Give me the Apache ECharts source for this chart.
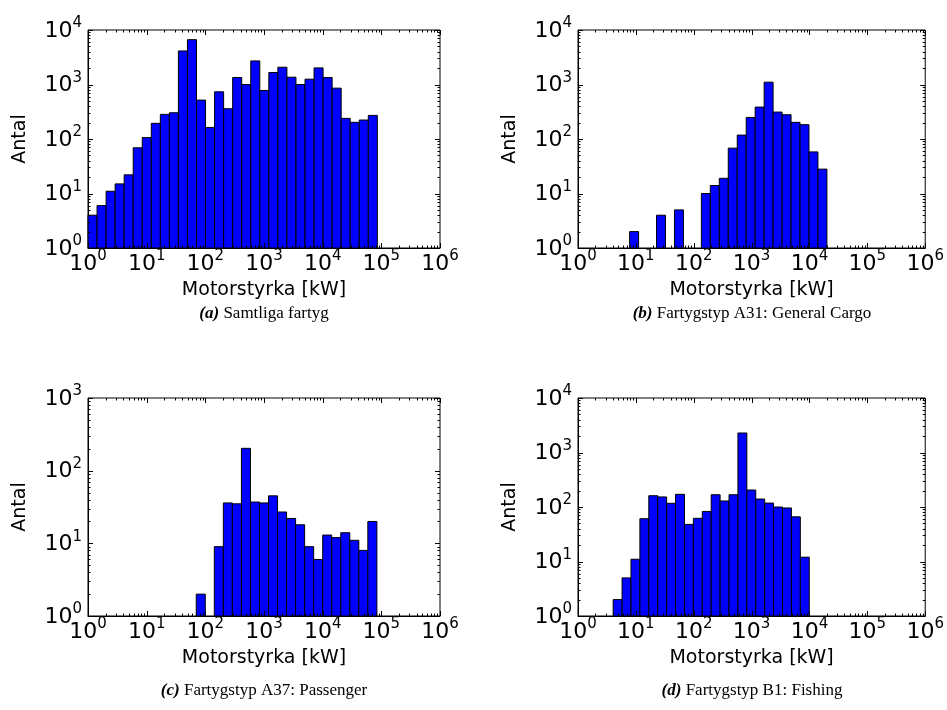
<!DOCTYPE html>
<html>
<head>
<meta charset="utf-8">
<script src="https://cdn.jsdelivr.net/npm/echarts@6/dist/echarts.min.js"></script>
<style>
  html, body { margin: 0; padding: 0; background: #fff; }
  #chart { width: 947px; height: 710px; }
</style>
</head>
<body>
<div id="chart"></div>
<script>
// histogram bins: log-spaced from lo to hi kW, one count per bin
const allLo = 1;
const allHi = 85500;
const allCounts = [4, 6, 11, 15, 22, 69, 106, 194, 283, 303, 4130, 6650, 517, 163, 734, 359,
  1343, 1000, 2710, 777, 1660, 2075, 1362, 1000, 1253, 2018, 1343, 857, 239, 202, 223, 271];

const cargoLo = 7.8;
const cargoHi = 20000;
const cargoCounts = [2, 0, 0, 4, 0, 5, 0, 0, 10, 14, 19, 68, 118, 249, 385, 1104, 312, 279, 202, 183, 58, 28];

const passLo = 70;
const passHi = 84000;
const passCounts = [2, 0, 9, 36, 35, 203, 37, 36, 45, 27, 22, 18, 9, 6, 13, 12, 14, 11, 8, 20];

const fishLo = 4.05;
const fishHi = 9900;
const fishCounts = [2, 5, 11, 61, 161, 153, 117, 171, 48, 62, 83, 168, 129, 168, 2280, 205, 140, 118, 100, 96, 66, 12];

const yMaxes = [1e4, 1e4, 1e3, 1e4];
const xMin = 1;
const xMax = 1e6;
const captionTags = ['(a)', '(b)', '(c)', '(d)'];
const captionTexts = ['Samtliga fartyg', 'Fartygstyp A31: General Cargo', 'Fartygstyp A37: Passenger', 'Fartygstyp B1: Fishing'];
const xName = 'Motorstyrka [kW]';
const yName = 'Antal';

const FONT = 'DejaVu Sans';

const panels = [
  { lo: allLo, hi: allHi, counts: allCounts, grid: { left: 88, top: 30, width: 352, height: 218 }, cap: [264, 314] },
  { lo: cargoLo, hi: cargoHi, counts: cargoCounts, grid: { left: 578, top: 30, width: 352, height: 218 }, cap: [752, 314] },
  { lo: passLo, hi: passHi, counts: passCounts, grid: { left: 88, top: 398, width: 352, height: 218 }, cap: [264, 691] },
  { lo: fishLo, hi: fishHi, counts: fishCounts, grid: { left: 578, top: 398, width: 352, height: 218 }, cap: [752, 691] }
];

function binData(p) {
  const n = p.counts.length;
  const step = Math.log10(p.hi / p.lo) / n;
  const out = [];
  for (let i = 0; i < n; i++) {
    const x0 = p.lo * Math.pow(10, step * i);
    const x1 = p.lo * Math.pow(10, step * (i + 1));
    out.push([x0, x1, p.counts[i]]);
  }
  return out;
}

// tick marks on all four sides (major at decades, minor at 2..9)
function tickData(yMax) {
  const out = [];
  for (let e = 0; Math.pow(10, e) <= xMax; e++) {
    for (let m = 1; m <= 9; m++) {
      const v = m * Math.pow(10, e);
      if (v > xMax) break;
      out.push([v, 1, 0, m === 1 ? 1 : 0]);
    }
  }
  for (let e = 0; Math.pow(10, e) <= yMax; e++) {
    for (let m = 1; m <= 9; m++) {
      const v = m * Math.pow(10, e);
      if (v > yMax) break;
      out.push([1, v, 1, m === 1 ? 1 : 0]);
    }
  }
  return out;
}

const labelRich = {
  b: { fontFamily: FONT, fontSize: 22, lineHeight: 24, verticalAlign: 'bottom', color: '#000' },
  s: { fontFamily: FONT, fontSize: 15, lineHeight: 16, padding: [0, 0, 11, 0], verticalAlign: 'bottom', color: '#000' }
};

function powLabel(value) {
  const e = Math.round(Math.log10(value));
  return '{b|10}{s|' + e + '}';
}

const grids = [];
const xAxes = [];
const yAxes = [];
const series = [];
const graphics = [];

panels.forEach((p, i) => {
  grids.push(Object.assign({ show: true, borderColor: '#000', borderWidth: 1, backgroundColor: '#fff' }, p.grid));
  xAxes.push({
    type: 'log',
    logBase: 10,
    gridIndex: i,
    min: xMin,
    max: xMax,
    name: xName,
    nameLocation: 'middle',
    nameGap: 33,
    nameTextStyle: { fontFamily: FONT, fontSize: 19, color: '#000' },
    axisLine: { show: true, lineStyle: { color: '#000', width: 1 } },
    axisTick: { show: false },
    splitLine: { show: false },
    axisLabel: { margin: 3, formatter: powLabel, rich: labelRich }
  });
  yAxes.push({
    type: 'log',
    logBase: 10,
    gridIndex: i,
    min: 1,
    max: yMaxes[i],
    name: yName,
    nameLocation: 'middle',
    nameGap: 58,
    nameTextStyle: { fontFamily: FONT, fontSize: 19, color: '#000' },
    axisLine: { show: true, lineStyle: { color: '#000', width: 1 } },
    axisTick: { show: false },
    splitLine: { show: false },
    axisLabel: { margin: 6, formatter: powLabel, rich: labelRich }
  });
  series.push({
    type: 'custom',
    xAxisIndex: i,
    yAxisIndex: i,
    encode: { x: [0, 1], y: 2 },
    data: binData(p),
    renderItem: function (params, api) {
      const c = api.value(2);
      if (!c) return null;
      const a = api.coord([api.value(0), c]);
      const b = api.coord([api.value(1), 1]);
      return {
        type: 'rect',
        shape: { x: a[0], y: a[1], width: b[0] - a[0], height: b[1] - a[1] },
        style: { fill: '#0000ff', stroke: '#000', lineWidth: 1 }
      };
    }
  });
  series.push({
    type: 'custom',
    xAxisIndex: i,
    yAxisIndex: i,
    silent: true,
    z: 5,
    encode: { x: 0, y: 1 },
    data: tickData(yMaxes[i]),
    renderItem: function (params, api) {
      const cs = params.coordSys;
      const len = api.value(3) ? 5 : 2.5;
      const kids = [];
      const st = { stroke: '#000', lineWidth: 1 };
      if (api.value(2) === 0) {
        const x = Math.round(api.coord([api.value(0), 1])[0]) + 0.5;
        kids.push({ type: 'line', shape: { x1: x, y1: cs.y + cs.height, x2: x, y2: cs.y + cs.height - len }, style: st });
        kids.push({ type: 'line', shape: { x1: x, y1: cs.y, x2: x, y2: cs.y + len }, style: st });
      } else {
        const y = Math.round(api.coord([1, api.value(1)])[1]) + 0.5;
        kids.push({ type: 'line', shape: { x1: cs.x, y1: y, x2: cs.x + len, y2: y }, style: st });
        kids.push({ type: 'line', shape: { x1: cs.x + cs.width, y1: y, x2: cs.x + cs.width - len, y2: y }, style: st });
      }
      return { type: 'group', children: kids };
    }
  });
  graphics.push({
    type: 'text',
    x: p.cap[0],
    y: p.cap[1],
    style: {
      text: '{t|' + captionTags[i] + '} ' + captionTexts[i],
      fontFamily: 'Liberation Serif',
      fontSize: 17,
      fill: '#000',
      align: 'center',
      verticalAlign: 'middle',
      rich: {
        t: { fontFamily: 'Liberation Serif', fontSize: 17, fontWeight: 'bold', fontStyle: 'italic', fill: '#000' }
      }
    }
  });
});

const chart = echarts.init(document.getElementById('chart'), null, { renderer: 'canvas' });
chart.setOption({
  animation: false,
  backgroundColor: '#fff',
  grid: grids,
  xAxis: xAxes,
  yAxis: yAxes,
  series: series,
  graphic: graphics
});
</script>
</body>
</html>
